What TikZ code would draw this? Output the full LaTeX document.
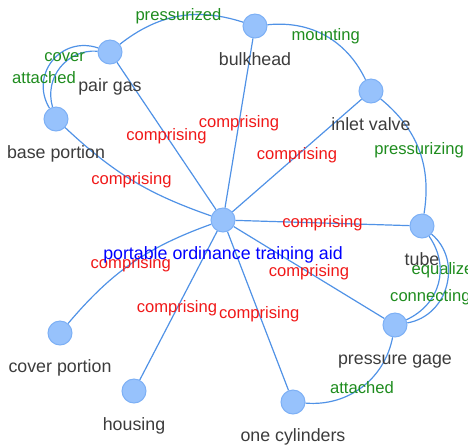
\documentclass[tikz,border=0pt]{standalone}
\usepackage{fontspec}
\setmainfont{Liberation Sans}
\usepackage{xcolor}
\usetikzlibrary{positioning}
\definecolor{entfill}{HTML}{97C2FC}
\definecolor{entline}{HTML}{7DB0F5}
\definecolor{edgeblue}{HTML}{5092E6}
\definecolor{relred}{HTML}{F01818}
\definecolor{relgreen}{HTML}{1E8C1E}
\definecolor{entgray}{HTML}{3C3C3C}
\pgfdeclarelayer{bg}
\pgfsetlayers{bg,main}

\begin{document}
\begin{tikzpicture}[x=0.5pt,y=0.5pt,every node/.style={font=\fontsize{8.9}{10}\selectfont},
  ent/.style={circle,fill=entfill,draw=entline,line width=0.5pt,minimum size=12pt,inner sep=0pt,
    label={[anchor=base,label distance=13.5pt,text=entgray]below:#1}},
  hub/.style={ent={\textcolor{blue}{#1}}},
  link/.style={draw=edgeblue,line width=0.6pt},
  comp/.style={text=relred,inner sep=0pt,font=\fontsize{8.3}{10}\selectfont},
  rel/.style={text=relgreen,inner sep=0pt,font=\fontsize{8.3}{10}\selectfont}]
  \useasboundingbox (0,0) rectangle (468,-447);
  \node (hub) [hub={portable ordinance training aid}] at (223,-220) {};
  \node (pairgas) [ent={pair gas}] at (110,-52) {};
  \node (bulkhead) [ent=bulkhead] at (255,-26) {};
  \node (inlet) [ent={inlet valve}] at (371,-91) {};
  \node (base) [ent={base portion}] at (56,-119) {};
  \node (tube) [ent=tube] at (422,-226) {};
  \node (gage) [ent={pressure gage}] at (395,-325) {};
  \node (coverp) [ent={cover portion}] at (60,-333) {};
  \node (housing) [ent=housing] at (134,-391) {};
  \node (cyl) [ent={one cylinders}] at (293,-402) {};
  \begin{pgfonlayer}{bg}
  \draw[link] (hub) -- node[comp] {comprising} (pairgas);
  \draw[link] (hub) -- node[comp] {comprising} (bulkhead);
  \draw[link] (hub) -- node[comp] {comprising} (inlet);
  \draw[link] (base) to[bend right=12] node[comp,pos=0.49] {comprising} (hub);
  \draw[link] (hub) -- node[comp] {comprising} (tube);
  \draw[link] (hub) -- node[comp] {comprising} (gage);
  \draw[link] (coverp) to[bend left=15] node[comp,pos=0.49] {comprising} (hub);
  \draw[link] (hub) -- node[comp,pos=0.52] {comprising} (housing);
  \draw[link] (hub) -- node[comp,pos=0.52] {comprising} (cyl);
  \draw[link] (pairgas) to[bend left=28] node[rel] {pressurized} (bulkhead);
  \draw[link] (bulkhead) to[bend left=35] node[rel] {mounting} (inlet);
  \draw[link] (inlet) to[bend left=30] node[rel] {pressurizing} (tube);
  \draw[link] (tube) to[bend left=65,looseness=1.15] node[rel,pos=0.36,xshift=-3pt] {equalize} (gage);
  \draw[link] (tube) to[bend left=50,looseness=1.1] node[rel,pos=0.66,xshift=-1pt] {connecting} (gage);
  \draw[link] (gage) to[bend left=42] node[rel] {attached} (cyl);
  \draw[link] (pairgas) to[bend right=70,looseness=1.3] node[rel,pos=0.7] {attached} (base);
  \draw[link] (pairgas) to[bend right=55,looseness=1.1] node[rel,pos=0.3,xshift=-4pt] {cover} (base);
  \end{pgfonlayer}
\end{tikzpicture}
\end{document}
